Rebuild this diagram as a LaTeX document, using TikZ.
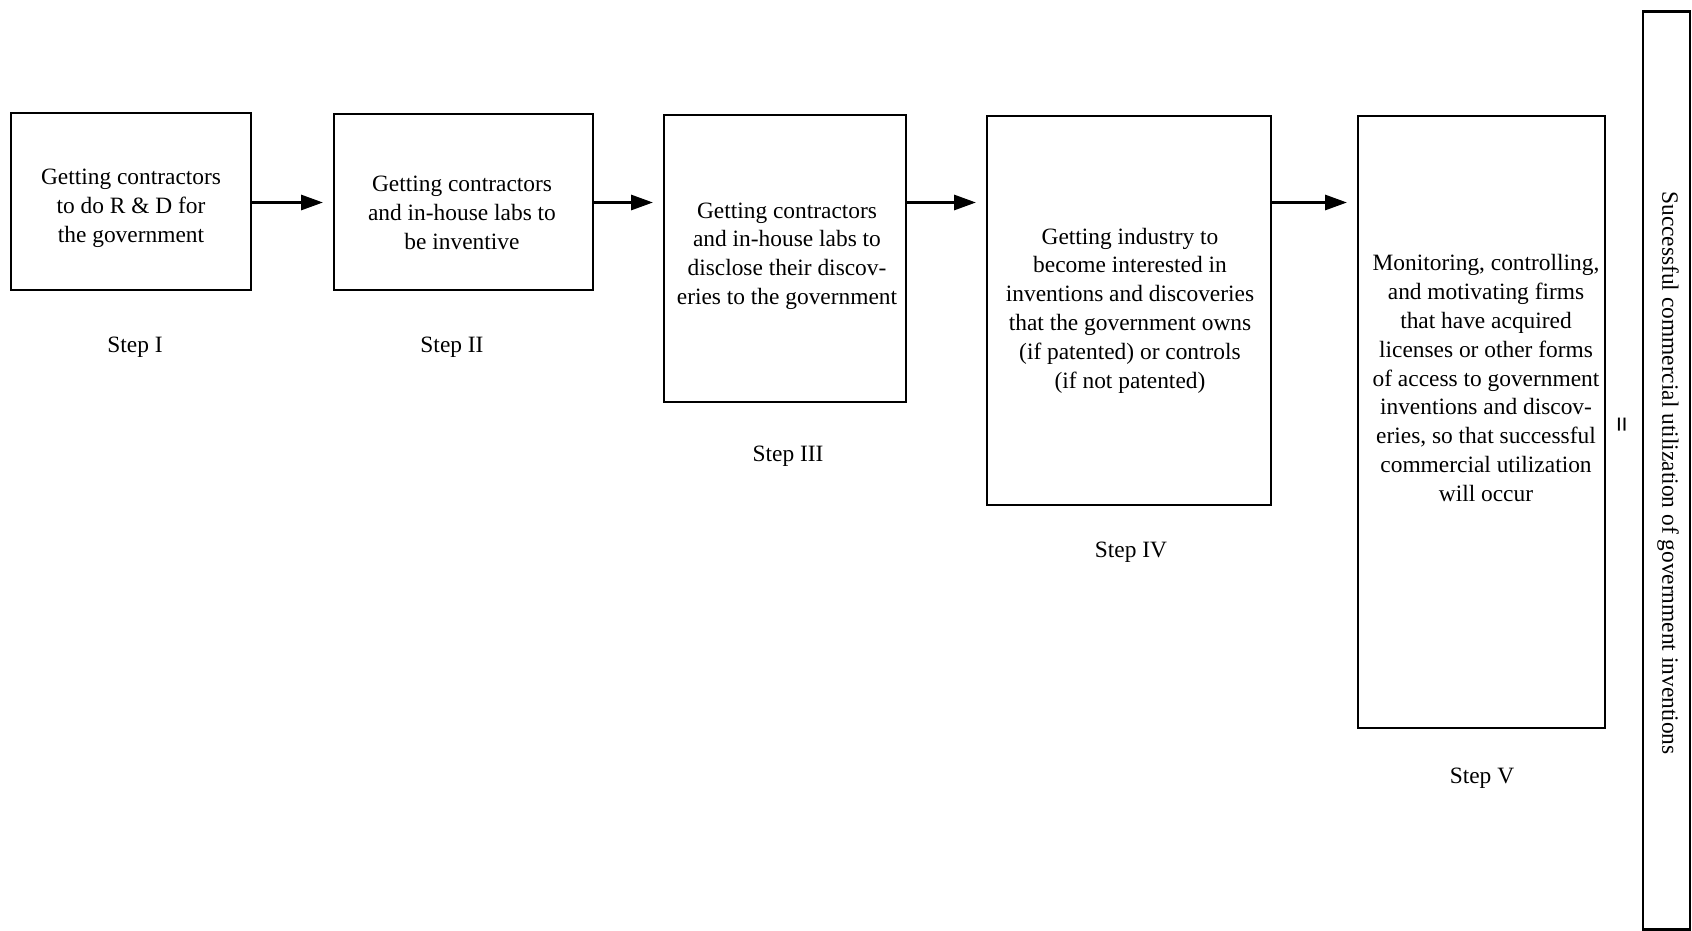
\documentclass[tikz,border=0pt]{standalone}
\usepackage{fontspec}
\setmainfont{Liberation Serif}
\usetikzlibrary{arrows.meta}
\begin{document}
\begin{tikzpicture}[x=1pt,y=-1pt,
  stepbox/.style={draw, line width=2.7pt, inner sep=0pt, outer sep=0pt},
  boxtext/.style={align=center, inner sep=0pt, font=\fontsize{23.4}{28.8}\selectfont},
  steplabel/.style={inner sep=0pt, font=\fontsize{23.4}{28.8}\selectfont},
  arr/.style={line width=3pt, shorten >=11pt, -{Triangle[length=22pt,width=15pt]}}]
\useasboundingbox (0,0) rectangle (1692,931);

% the five step boxes
\node[stepbox, minimum width=240pt, minimum height=177pt] (b1) at (131,201.5) {};
\node[stepbox, minimum width=259pt, minimum height=176pt] (b2) at (463.5,202) {};
\node[stepbox, minimum width=242pt, minimum height=287pt] (b3) at (785,258.5) {};
\node[stepbox, minimum width=284pt, minimum height=389pt] (b4) at (1129,310.5) {};
\node[stepbox, minimum width=247pt, minimum height=612pt] (b5) at (1481.5,422) {};

% outcome column
\node[stepbox, minimum width=47pt, minimum height=918pt] (res) at (1666.5,470.5) {};

% box texts
\node[boxtext] (t1) at (131,208) {Getting contractors\\to do R \& D for\\the government};
\node[boxtext] (t2) at (462,213) {Getting contractors\\and in-house labs to\\be inventive};
\node[boxtext] (t3) at (787,256) {Getting contractors\\and in-house labs to\\disclose their discov-\\eries to the government};
\node[boxtext] (t4) at (1130,310.5) {Getting industry to\\become interested in\\inventions and discoveries\\that the government owns\\(if patented) or controls\\(if not patented)};
\node[boxtext] (t5) at (1486,378) {Monitoring, controlling,\\and motivating firms\\that have acquired\\licenses or other forms\\of access to government\\inventions and discov-\\eries, so that successful\\commercial utilization\\will occur};

% step labels
\node[steplabel] (s1) at (135,347) {Step I};
\node[steplabel] (s2) at (452,347) {Step II};
\node[steplabel] (s3) at (788,456) {Step III};
\node[steplabel] (s4) at (1131,552) {Step IV};
\node[steplabel] (s5) at (1482,778) {Step V};

% equals sign and result text
\node[inner sep=0pt, rotate=90, font=\fontsize{28}{30}\selectfont\bfseries] (eq) at (1625,425) {=};
\node[steplabel, rotate=-90] (rt) at (1668,473) {Successful commercial utilization of government inventions};

% connecting arrows
\coordinate (lev) at (0,202.5);
\draw[arr] (b1.east |- lev) -- (b2.west |- lev);
\draw[arr] (b2.east |- lev) -- (b3.west |- lev);
\draw[arr] (b3.east |- lev) -- (b4.west |- lev);
\draw[arr] (b4.east |- lev) -- (b5.west |- lev);
\end{tikzpicture}
\end{document}
